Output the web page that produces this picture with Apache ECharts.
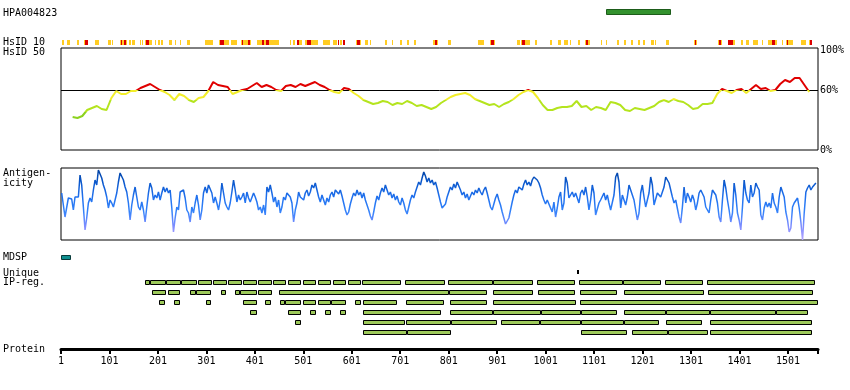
<!DOCTYPE html>
<html><head><meta charset="utf-8">
<script src="https://cdn.jsdelivr.net/npm/echarts@6/dist/echarts.min.js"></script>
<style>html,body{margin:0;padding:0;background:#fff}#c{width:850px;height:390px}</style>
</head><body><div id="c"></div>
<script>
// ---------------- DATA ----------------
const proteinLength = 1563;
const tickLabels = [1,101,201,301,401,501,601,701,801,901,1001,1101,1201,1301,1401,1501];
const antigenRegion = [[1126, 1260]];
const mdspRegions = [[1, 22]];
const markerRegions = [[1066, 1069]];

const hsid10Yellow = [[3,8],[13,20],[35,38],[49,56],[72,80],[97,104],[107,109],[122,137],[141,146],[148,153],[163,165],[168,170],[174,188],[194,198],[201,205],[208,212],[223,230],[236,239],[247,249],[262,268],[299,315],[326,347],[352,365],[372,393],[406,451],[473,476],[480,484],[487,499],[504,531],[541,557],[562,571],[576,580],[610,619],[628,634],[639,641],[669,673],[683,686],[701,704],[715,719],[729,733],[769,778],[800,805],[862,874],[886,897],[942,949],[951,969],[979,983],[1011,1015],[1026,1033],[1039,1048],[1051,1052],[1067,1072],[1082,1092],[1115,1117],[1125,1127],[1148,1152],[1162,1167],[1177,1181],[1192,1196],[1201,1206],[1218,1225],[1227,1229],[1249,1256],[1307,1313],[1356,1365],[1377,1391],[1404,1409],[1414,1421],[1429,1440],[1448,1450],[1460,1478],[1489,1491],[1497,1512],[1528,1539],[1545,1551]];
const hsid10Red = [[51,56],[125,127],[131,135],[177,182],[330,338],[374,377],[386,391],[415,419],[425,431],[487,493],[508,516],[573,575],[582,588],[612,617],[772,776],[889,894],[953,958],[1084,1088],[1309,1312],[1358,1363],[1378,1388],[1468,1475],[1500,1502],[1547,1551]];

const hsid50Start = 25, hsid50Step = 10;
const hsid50 = [33,32,34,40,42,44,41,40,52,59, 56,56,59,59,62,64,66,63,60,58, 55,50,56,54,50,48,52,53,59,68, 65,64,63,56,58,60,61,64,67,63, 65,63,60,59,64,65,63,66,
 64,66,68,65,63,60,58,57,62,61, 57,54,50,48,46,47,49,48,45,47, 46,49,47,44,45,43,41,43,47,50, 53,55,56,57,55,51,49,47,45,46, 43,46,48,51,55,58,60,58,52,45, 40,
 40,42,43,43,44,49,43,44,40,43, 42,40,48,47,45,40,39,42,41,40, 42,44,48,50,48,51,49,48,45,41, 42,46,46,47,56,61,59,57,60,61, 57,61,65,61,62,59,60,66,70,68, 72,72,65, 58];

const antigenStart = 2.4, antigenStep = 3.443;
const antigenicity = [47,
 45,23,23,42,41,41,30,43,45,43, 65,55,33,10,22,37,42,38,50,60, 55,70,68,62,55,50,43,32,40,37, 33,35,47,58,67,68,60,53,48,37,
 20,35,45,53,43,33,30,38,30,18, 33,47,57,52,40,45,42,48,40,47, 53,48,52,47,50,32,8,22,33,30, 48,47,50,42,30,27,18,33,27,37,
 45,35,20,30,47,53,47,55,55,47, 37,43,37,30,40,57,47,37,33,30, 37,48,60,50,38,45,40,43,47,37, 48,42,38,40,47,43,38,30,33,27,
 35,25,53,48,55,47,38,43,33,40, 27,33,43,40,47,48,43,37,18,30, 37,48,43,
 45,40,47,50,44,48,55,52,57,50, 43,38,45,40,35,42,38,45,48,43, 50,52,46,50,44,37,30,25,28,36, 42,47,44,50,45,48,42,47,40,35,
 30,24,20,28,37,44,40,47,52,48, 55,50,45,48,42,46,40,44,38,35, 42,37,30,26,33,40,45,42,48,53, 58,55,62,68,64,58,62,57,60,55,
 58,52,45,38,32,30,36,43,48,53, 50,56,52,58,54,50,45,48,42,46, 40,44,48,45,50,47,52,48,45,50, 53,47,40,33,30,36,42,46,40,35,
 28,22,16,14,22,30,38,45,50,47, 53,55,50,56,60,55,58,54,60,63, 65,60,57,52,45,40,36,40,38,
 32,28,38,23,32,43,48,30,37,63, 57,42,45,48,43,47,45,37,47,50, 45,53,43,30,40,55,47,25,23,37, 40,42,47,40,45,37,30,28,45,63,
 67,58,32,45,43,35,43,55,50,45, 40,30,20,27,47,55,43,33,40,47, 63,55,35,35,47,47,43,48,53,63, 60,57,57,43,37,40,42,23,17,33,
 53,37,47,43,38,45,40,30,37,47, 50,52,43,33,30,27,40,50,48,45, 37,23,18,40,60,52,40,30,18,27, 57,45,27,20,10,33,60,47,40,37,
 55,43,47,57,53,50,25,20,32,38, 33,37,32,47,37,33,27,43,53,48, 43,28,20,8,12,33,37,38,42,32, 18,0,27,48,52,55,50,53,52,57];

const ipRow1 = [[174,184],[184,218],[218,248],[248,281],[283,312],[314,344],[345,374],[376,405],[407,436],[438,466],[469,497],[500,528],[531,559],[562,590],[593,621],[622,703],[711,794],[800,892],[892,974],[984,1061],[1070,1160],[1160,1239],[1248,1325],[1333,1557]];
const ipRow2 = [[188,218],[221,246],[268,279],[279,311],[331,342],[360,371],[371,405],[407,436],[450,802],[802,881],[892,974],[985,1061],[1072,1149],[1163,1327],[1336,1553]];
const ipRow3 = [[204,216],[235,247],[300,311],[376,405],[421,434],[452,464],[464,497],[500,528],[531,559],[559,590],[607,621],[624,695],[712,792],[804,879],[892,1063],[1072,1563]];
const ipRow4 = [[391,405],[469,497],[514,528],[545,559],[576,590],[624,786],[804,893],[893,991],[991,1073],[1073,1148],[1163,1250],[1250,1340],[1340,1477],[1477,1542]];
const ipRow5 = [[483,497],[624,710],[712,806],[806,900],[909,989],[989,1073],[1073,1163],[1163,1234],[1249,1323],[1341,1551]];
const ipRow6 = [[624,715],[715,805],[1074,1168],[1180,1254],[1254,1336],[1341,1551]];

// ---------------- BUILD ----------------
const FONT = '10px "DejaVu Sans Mono"';
const L = 61, W = 757;
const ipRows = [ipRow1, ipRow2, ipRow3, ipRow4, ipRow5, ipRow6];

function rectSeries(dataPairs, cfg) {
  return {
    type: 'custom', xAxisIndex: 0, yAxisIndex: 0, silent: true, z: cfg.z || 3,
    data: dataPairs.map(p => [p[0], p[1], p[2] || 0]),
    encode: { x: [0, 1] },
    clip: false,
    renderItem: function (params, api) {
      const a = api.coord([api.value(0), 0])[0];
      const b = api.coord([api.value(1), 0])[0];
      const row = api.value(2);
      const y = cfg.y + row * (cfg.rowStep || 0);
      let x0 = Math.round(a), x1 = Math.round(b);
      if (x1 - x0 < (cfg.minW || 1)) x1 = x0 + (cfg.minW || 1);
      if (cfg.stroke) {
        return { type: 'rect', shape: { x: x0 + 0.5, y: y + 0.5, width: x1 - x0 - 1, height: cfg.h - 1 },
          style: { fill: cfg.fill, stroke: cfg.stroke, lineWidth: 1 } };
      }
      return { type: 'rect', shape: { x: x0, y: y, width: x1 - x0, height: cfg.h }, style: { fill: cfg.fill } };
    }
  };
}

const ipData = [];
ipRows.forEach((row, i) => row.forEach(p => ipData.push([p[0], p[1], i])));

const hsData = hsid50.map((v, i) => [hsid50Start + i * hsid50Step, v]);
const agData = antigenicity.map((v, i) => [antigenStart + i * antigenStep, v]);

const xBase = { type: 'value', min: 1, max: proteinLength, show: false };

const option = {
  animation: false,
  backgroundColor: '#fff',
  grid: [
    { left: L, width: W, top: 0, height: 390, show: false },
    { left: L, width: W, top: 48, height: 102, show: true, borderColor: '#000', borderWidth: 1 },
    { left: L, width: W, top: 168, height: 72, show: true, borderColor: '#000', borderWidth: 1 },
    { left: L, width: W, top: 340, height: 9, show: false }
  ],
  xAxis: [
    Object.assign({ gridIndex: 0 }, xBase),
    Object.assign({ gridIndex: 1 }, xBase),
    Object.assign({ gridIndex: 2 }, xBase),
    { gridIndex: 3, type: 'value', min: 1, max: proteinLength, position: 'bottom',
      axisLine: { show: true, lineStyle: { color: '#000', width: 3 } },
      axisTick: { show: true, length: 5, lineStyle: { color: '#000', width: 2 }, customValues: tickLabels.concat([proteinLength]) },
      axisLabel: { show: true, customValues: tickLabels, formatter: v => String(v), margin: 7, color: '#000', fontSize: 10, fontFamily: 'DejaVu Sans Mono' },
      splitLine: { show: false } }
  ],
  yAxis: [
    { gridIndex: 0, type: 'value', min: 0, max: 390, inverse: true, show: false },
    { gridIndex: 1, type: 'value', min: 0, max: 102, position: 'right',
      axisLine: { show: false }, axisTick: { show: false }, splitLine: { show: false },
      axisLabel: { show: true, customValues: [0, 60, 100], formatter: v => v + '%', margin: 2, color: '#000', fontSize: 10, fontFamily: 'DejaVu Sans Mono' } },
    { gridIndex: 2, type: 'value', min: 0, max: 72, show: false },
    { gridIndex: 3, type: 'value', min: 0, max: 1, show: false }
  ],
  visualMap: [
    { type: 'piecewise', show: false, seriesIndex: 0, dimension: 1,
      pieces: [{ lt: 38, color: '#8cd21e' }, { gte: 38, lt: 50, color: '#b4e41e' },
               { gte: 50, lt: 60, color: '#f2ee2a' }, { gte: 60, color: '#e00000' }] },
    { type: 'continuous', show: false, seriesIndex: 1, dimension: 1, min: 0, max: 72,
      inRange: { color: ['#b4a4ff', '#7c8cff', '#3282fa', '#1f70ee', '#0b58cc', '#003f9c'] } }
  ],
  series: [
    { type: 'line', xAxisIndex: 1, yAxisIndex: 1, data: hsData, showSymbol: false, silent: true,
      lineStyle: { width: 2 }, z: 3,
      markLine: { silent: true, symbol: 'none', label: { show: false }, z: 2,
        lineStyle: { color: '#000', width: 1, type: 'solid' }, data: [{ yAxis: 60 }] } },
    { type: 'line', xAxisIndex: 2, yAxisIndex: 2, data: agData, showSymbol: false, silent: true,
      lineStyle: { width: 1.5 } },
    rectSeries(hsid10Yellow, { y: 40, h: 5, fill: '#ffcc22' }),
    rectSeries(hsid10Red, { y: 40, h: 5, fill: '#dd0000', z: 4 }),
    rectSeries(antigenRegion, { y: 9, h: 6, fill: '#33922e', stroke: '#1d5c1a' }),
    rectSeries(mdspRegions, { y: 255, h: 5, fill: '#0f9090', stroke: '#0a3a3a' }),
    rectSeries(markerRegions, { y: 270, h: 4, fill: '#000', minW: 2 }),
    rectSeries(ipData, { y: 280, rowStep: 10, h: 5, fill: '#9dc95a', stroke: '#000' })
  ],
  graphic: [
    ['HPA004823', 3, 13], ['HsID 10', 3, 42], ['HsID 50', 3, 52], ['Antigen-', 3, 173], ['icity', 3, 183],
    ['MDSP', 3, 257], ['Unique', 3, 273], ['IP-reg.', 3, 282], ['Protein', 3, 349]
  ].map(t => ({ type: 'text', x: t[1], y: t[2], silent: true,
    style: { text: t[0], font: FONT, fill: '#000', verticalAlign: 'middle' } }))
};

const chart = echarts.init(document.getElementById('c'), null, { renderer: 'canvas' });
chart.setOption(option);
</script>
</body></html>
